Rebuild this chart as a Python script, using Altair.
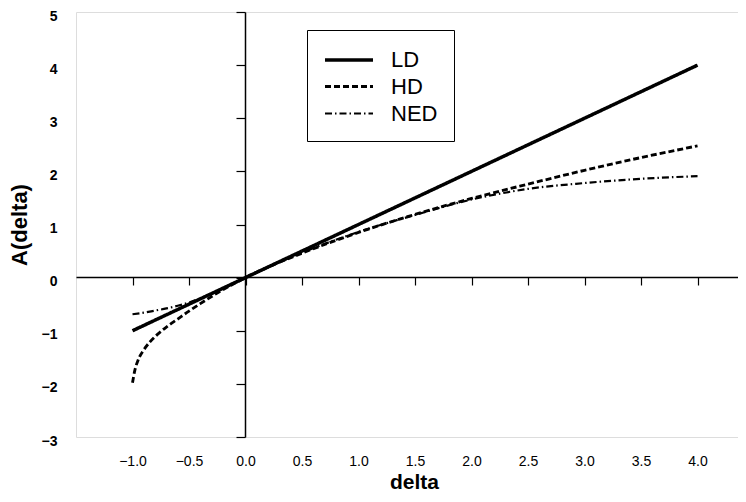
import altair as alt
import pandas as pd

# Values
ld_x = [-1.0, 0.0, 1.0, 2.0, 3.0, 4.0]
ld_y = [-1.0, 0.0, 1.0, 2.0, 3.0, 4.0]

hd_x = [-1.0, -0.98, -0.95, -0.9, -0.85, -0.8, -0.7, -0.6, -0.5, -0.4, -0.25, 0.0, 0.5, 1.0, 1.5, 2.0, 2.5, 3.0, 3.5, 4.0]
hd_y = [-1.98, -1.75, -1.55, -1.36, -1.22, -1.11, -0.93, -0.78, -0.63, -0.49, -0.29, 0.0, 0.46, 0.85, 1.19, 1.49, 1.76, 2.02, 2.26, 2.48]

ned_x = [-1.0, -0.9, -0.8, -0.7, -0.6, -0.5, -0.4, -0.25, 0.0, 0.5, 1.0, 1.5, 2.0, 2.5, 3.0, 3.5, 4.0]
ned_y = [-0.69, -0.66, -0.62, -0.58, -0.53, -0.47, -0.39, -0.25, 0.0, 0.47, 0.86, 1.18, 1.47, 1.67, 1.78, 1.86, 1.91]

series = ["LD", "HD", "NED"]
x_ticks = [-1.0, -0.5, 0.0, 0.5, 1.0, 1.5, 2.0, 2.5, 3.0, 3.5, 4.0]
y_ticks = [-3, -2, -1, 0, 1, 2, 3, 4, 5]

rows = []
for name, xs, ys in [("LD", ld_x, ld_y), ("HD", hd_x, hd_y), ("NED", ned_x, ned_y)]:
    for i, (a, b) in enumerate(zip(xs, ys)):
        rows.append({"series": name, "delta": a, "A": b, "i": i})
df = pd.DataFrame(rows)

FONT = "Liberation Sans"

legend = alt.Legend(
    orient="none", legendX=231, legendY=18, title=None,
    strokeColor="black", padding=16, symbolType="M-1,0L3,0", symbolSize=576,
    symbolStrokeColor="black", symbolFillColor="transparent",
    labelFontSize=22, labelFont=FONT,
    labelOffset=40, rowPadding=2, labelColor="black",
)

chart = alt.Chart(df).mark_line(color="black", interpolate="monotone").encode(
    x=alt.X("delta:Q",
            scale=alt.Scale(domain=[-1.5, 4.358], nice=False, zero=False),
            axis=alt.Axis(values=x_ticks, format=".1f", orient="bottom", offset=-160,
                          tickSize=8, labelPadding=176, labelBaseline="middle",
                          labelFontSize=14, labelFont=FONT, labelColor="black",
                          title="delta", titleFontSize=21, titleFont=FONT,
                          titleFontWeight="bold", titlePadding=3, titleColor="black",
                          titleX=338,
                          grid=False, domainColor="black", tickColor="black",
                          domainWidth=1.5, tickWidth=1.2, labelFlush=False)),
    y=alt.Y("A:Q",
            scale=alt.Scale(domain=[-3, 5], nice=False, zero=False),
            axis=alt.Axis(values=y_ticks, orient="left", offset=-169,
                          tickSize=9, labelPadding=179, labelOffset=4,
                          labelFontSize=14, labelFont=FONT, labelFontWeight="bold",
                          labelColor="black",
                          title="A(delta)", titleFontSize=22, titleFont=FONT,
                          titleFontWeight="bold", titlePadding=14, titleColor="black",
                          grid=False, domainColor="black", tickColor="black",
                          domainWidth=1.5, tickWidth=1.2, labelFlush=False)),
    strokeDash=alt.StrokeDash("series:N",
                              scale=alt.Scale(domain=series, range=[[1, 0], [6, 3], [7, 3, 1.5, 3]]),
                              legend=legend),
    strokeWidth=alt.StrokeWidth("series:N",
                                scale=alt.Scale(domain=series, range=[3.5, 2.2, 1.3]),
                                legend=legend),
    order="i:Q",
).properties(
    width=662, height=425,
    autosize=alt.AutoSizeParams(type="none"),
    padding={"left": 68, "top": 4, "right": 0, "bottom": 57},
).configure_view(stroke=None).configure(background="white")

chart.save("out.html", embed_options={"renderer": "svg", "actions": False})
